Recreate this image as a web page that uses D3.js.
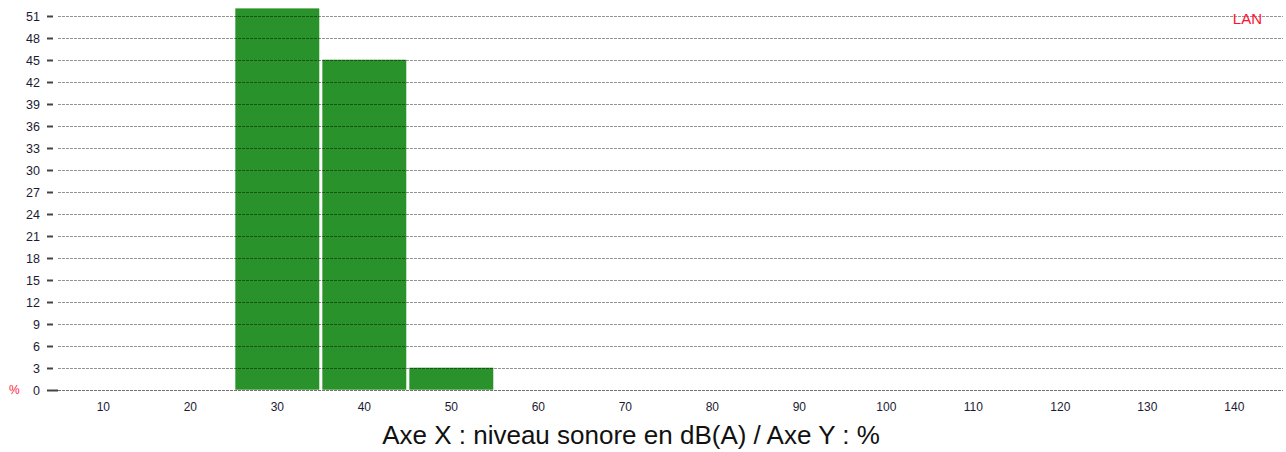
<!DOCTYPE html>
<html><head><meta charset="utf-8">
<script src="https://cdn.jsdelivr.net/npm/d3@7"></script>
<style>body{margin:0;background:#fff}svg{display:block}</style>
</head><body>
<svg id="c" width="1286" height="452"></svg>
<script>
const categories = [10,20,30,40,50,60,70,80,90,100,110,120,130,140];
const values = [0,0,52,45,3,0,0,0,0,0,0,0,0,0];
const yTicks = [0,3,6,9,12,15,18,21,24,27,30,33,36,39,42,45,48,51];
const xTitle = "Axe X : niveau sonore en dB(A) / Axe Y : %";
const seriesName = "LAN";
const unitLabel = "%";

const svg = d3.select("#c");
const x = d3.scaleBand().domain(categories).range([59.8, 1277.8]).paddingInner(0.035).paddingOuter(0.0175);
const y = d3.scaleLinear().domain([0, 53]).range([389.7, 1.05]);
const font = "'Liberation Sans', Arial, sans-serif";

// bars
svg.append("g").selectAll("rect").data(categories.map((c,i)=>({c, v: values[i]})).filter(d=>d.v>0))
  .enter().append("rect")
  .attr("x", d => x(d.c))
  .attr("width", x.bandwidth())
  .attr("y", d => y(d.v))
  .attr("height", d => y(0) - y(d.v))
  .attr("fill", "#2a922a");

// y axis grid + ticks
const yAxis = d3.axisLeft(y).tickValues(yTicks).tickSize(0).tickPadding(0);
const gy = svg.append("g");
yTicks.forEach(t => {
  const yy = Math.round(y(t)) + 0.5;
  gy.append("line").attr("x1", 58).attr("x2", 1283).attr("y1", yy).attr("y2", yy)
    .attr("stroke", t === 0 ? "rgba(0,0,0,0.55)" : "rgba(0,0,0,0.42)")
    .attr("stroke-dasharray", "3,1").attr("stroke-width", 1);
  gy.append("line").attr("x1", 47).attr("x2", t === 0 ? 58 : 53).attr("y1", yy).attr("y2", yy)
    .attr("stroke", "#444").attr("stroke-width", 2);
});
const ya = svg.append("g").attr("transform", "translate(40,0)").call(yAxis);
ya.select(".domain").remove();
ya.selectAll("text").attr("font-family", font).attr("font-size", 12.5).attr("fill", "#1b1b33").attr("dy", "0.35em");

// x axis labels
const xAxis = d3.axisBottom(x).tickSize(0).tickPadding(0);
const xa = svg.append("g").attr("transform", "translate(0,402)").call(xAxis);
xa.select(".domain").remove();
xa.selectAll("text").attr("font-family", font).attr("font-size", 12).attr("fill", "#1b1b33").attr("dy", "0.71em");

// unit label
svg.append("text").attr("x", 9).attr("y", y(0)).attr("dy", "0.35em")
  .attr("font-family", font).attr("font-size", 12).attr("fill", "#ff2040").text(unitLabel);

// series label
svg.append("text").attr("x", 1262).attr("y", 24).attr("text-anchor", "end")
  .attr("font-family", font).attr("font-size", 15).attr("fill", "#ff1030").text(seriesName);

// title
svg.append("text").attr("x", 631).attr("y", 444).attr("text-anchor", "middle")
  .attr("font-family", font).attr("font-size", 26).attr("fill", "#111").text(xTitle);
</script>
</body></html>
